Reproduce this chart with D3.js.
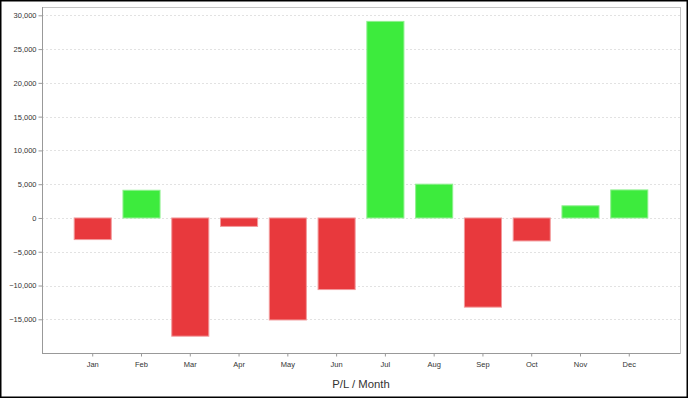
<!DOCTYPE html>
<html>
<head>
<meta charset="utf-8">
<script src="https://cdn.jsdelivr.net/npm/d3@7"></script>
<style>
  body { margin: 0; background: #fff; }
  svg { display: block; font-family: "Liberation Sans", Arial, sans-serif; }
</style>
</head>
<body>
<svg id="chart"></svg>
<script>
// P/L per month bar chart

const width = 688;
const height = 398;
const margin = { top: 7, right: 8, bottom: 45, left: 42 };

const months = ["Jan", "Feb", "Mar", "Apr", "May", "Jun", "Jul", "Aug", "Sep", "Oct", "Nov", "Dec"];
const profit = [-3200, 4100, -17500, -1250, -15100, -10600, 29100, 5000, -13200, -3400, 1800, 4150];
const yTicks = [-15000, -10000, -5000, 0, 5000, 10000, 15000, 20000, 25000, 30000];

const svg = d3.select("#chart").attr("width", width).attr("height", height);

svg
  .append("rect")
  .attr("x", 0.5)
  .attr("y", 0.5)
  .attr("width", width - 1)
  .attr("height", height - 1)
  .attr("fill", "#fff")
  .attr("stroke", "#000")
  .attr("stroke-width", 2);

const x = d3
  .scaleBand()
  .domain(months)
  .range([margin.left, width - margin.right])
  .paddingInner(0.24)
  .paddingOuter(0.66);

const y = d3
  .scaleLinear()
  .domain([-19990, 31230])
  .range([height - margin.bottom, margin.top]);

// grid
svg
  .append("g")
  .selectAll("line")
  .data(yTicks)
  .enter()
  .append("line")
  .attr("x1", margin.left)
  .attr("x2", width - margin.right)
  .attr("y1", (d) => Math.round(y(d)) + 0.5)
  .attr("y2", (d) => Math.round(y(d)) + 0.5)
  .attr("stroke", "#e2e2e2")
  .attr("stroke-dasharray", "2,2");

// frame
svg
  .append("rect")
  .attr("x", margin.left + 0.5)
  .attr("y", margin.top + 0.5)
  .attr("width", width - margin.left - margin.right)
  .attr("height", height - margin.top - margin.bottom)
  .attr("fill", "none")
  .attr("stroke", "#c4c4c4");

// bars
svg
  .append("g")
  .selectAll("rect")
  .data(profit)
  .enter()
  .append("rect")
  .attr("x", (d, i) => x(months[i]))
  .attr("y", (d) => y(Math.max(0, d)))
  .attr("width", x.bandwidth())
  .attr("height", (d) => Math.abs(y(d) - y(0)))
  .attr("fill", (d) => (d >= 0 ? "#3deb3d" : "#e8393d"))
  .attr("stroke", (d) => (d >= 0 ? "#8ef08e" : "#f29a9c"))
  .attr("stroke-width", 1);

// axes
const yAxis = svg
  .append("g")
  .attr("transform", `translate(${margin.left + 0.5},0)`)
  .call(
    d3
      .axisLeft(y)
      .tickValues(yTicks)
      .tickSize(4)
      .tickPadding(2)
      .tickFormat(d3.format(","))
  );

const xAxis = svg
  .append("g")
  .attr("transform", `translate(0,${height - margin.bottom + 0.5})`)
  .call(d3.axisBottom(x).tickSize(3).tickPadding(5));

[yAxis, xAxis].forEach((ax) => {
  ax.select(".domain").attr("stroke", "#999");
  ax.selectAll(".tick line").attr("stroke", "#999");
  ax.selectAll("text").attr("fill", "#333").attr("font-size", "7.5px").attr("font-family", "Liberation Sans, Arial, sans-serif");
});
xAxis.select(".domain").attr("d", `M${margin.left},0H${width - margin.right}`);
yAxis.select(".domain").attr("d", `M0,${margin.top}V${height - margin.bottom}`);

svg
  .append("text")
  .attr("x", (margin.left + width - margin.right) / 2)
  .attr("y", 388)
  .attr("text-anchor", "middle")
  .attr("font-size", "11.3px")
  .attr("fill", "#333")
  .text("P/L / Month");
</script>
</body>
</html>
